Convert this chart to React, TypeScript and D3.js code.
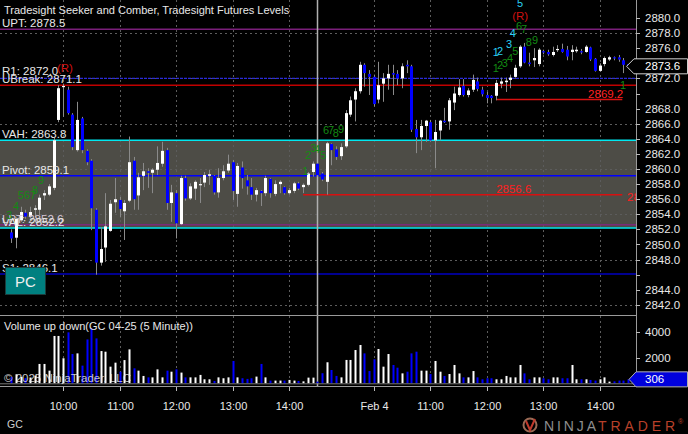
import React from 'react';
import * as d3 from 'd3';

const FONT = "'Liberation Sans', Arial, sans-serif";

// 5-minute bars; bar index k counted from 10:00 on day 1 (first bar k = -11 -> 09:05)
const FIRST_K = -11;
const opens = [
  2851.6, 2850.9, 2853.2, 2854.2, 2853.7, 2854.6, 2854.6, 2856.5, 2856.6, 2857.5, 2866.5,
  2870.9, 2870.5, 2867.2, 2862.5, 2866.7, 2862.4, 2861.1, 2854.6, 2847.6, 2849.6, 2851.8,
  2855.6, 2855.9, 2854.4, 2855.8, 2861.1, 2856.5, 2859.1, 2859.7, 2859.5, 2859.9, 2860.7,
  2862.5, 2855.5, 2856.8, 2852.7, 2858.8, 2856.1, 2857.4, 2857.9, 2858.2, 2859.1, 2859.1,
  2856.9, 2858.8, 2859.8, 2860.9, 2856.7, 2860.2, 2858.5, 2857.6, 2856.6, 2857.1, 2856.8,
  2858.7, 2856.7, 2858.0, 2857.6, 2856.8, 2857.1, 2858.1, 2857.6, 2857.9, 2859.6, 2860.7,
  2859.4, 2858.3, 2863.3, 2862.6, 2861.7, 2863.0, 2867.2, 2869.2, 2870.3, 2873.8, 2872.6,
  2872.2, 2869.2, 2871.3, 2872.0, 2872.7, 2872.6, 2872.0, 2873.8, 2873.6, 2865.3, 2864.2,
  2865.7, 2866.2, 2863.8, 2865.1, 2866.4, 2866.3, 2868.8, 2869.8, 2871.0, 2869.8, 2870.5,
  2871.6, 2870.5, 2869.8, 2869.7, 2869.7, 2871.3, 2871.5, 2871.8, 2872.2, 2873.6, 2876.2,
  2874.1, 2874.4, 2873.9, 2875.6, 2875.5, 2875.1, 2875.8, 2875.9, 2875.8, 2875.5, 2875.6,
  2875.6, 2875.5, 2876.1, 2874.6, 2873.0, 2873.9, 2874.5, 2874.8, 2874.8, 2874.4, 2873.9,
];
const highs = [
  2852.0, 2853.6, 2855.0, 2854.6, 2855.0, 2855.2, 2856.6, 2857.2, 2858.0, 2864.1, 2871.1,
  2871.3, 2870.9, 2867.4, 2868.9, 2866.9, 2862.6, 2861.3, 2854.8, 2852.3, 2856.8, 2855.9,
  2858.8, 2856.3, 2855.9, 2864.3, 2861.6, 2859.5, 2860.8, 2860.1, 2860.1, 2863.0, 2863.6,
  2862.8, 2857.9, 2857.2, 2859.1, 2859.1, 2858.1, 2858.5, 2858.8, 2859.6, 2859.9, 2859.2,
  2860.1, 2860.5, 2861.9, 2861.2, 2860.8, 2861.0, 2859.2, 2858.8, 2857.5, 2857.2, 2859.1,
  2858.8, 2858.5, 2858.5, 2857.7, 2857.5, 2858.3, 2858.3, 2858.1, 2859.6, 2861.0, 2860.8,
  2859.6, 2863.6, 2863.4, 2863.0, 2863.4, 2867.8, 2869.6, 2870.7, 2874.2, 2874.0, 2873.1,
  2872.5, 2874.2, 2872.7, 2873.8, 2873.8, 2873.1, 2874.0, 2874.4, 2873.8, 2866.5, 2866.5,
  2866.5, 2866.5, 2866.5, 2866.5, 2868.1, 2869.4, 2870.9, 2871.9, 2871.9, 2870.7, 2872.5,
  2872.1, 2870.9, 2870.2, 2869.8, 2871.8, 2872.1, 2872.1, 2872.5, 2873.8, 2876.4, 2876.7,
  2875.4, 2876.0, 2876.0, 2875.8, 2875.8, 2876.2, 2876.4, 2876.6, 2876.3, 2876.4, 2876.2,
  2875.9, 2876.4, 2876.2, 2874.7, 2874.0, 2874.9, 2875.0, 2874.9, 2875.1, 2874.7, 2873.9,
];
const lows = [
  2850.2, 2849.5, 2853.0, 2853.4, 2853.5, 2853.6, 2853.9, 2855.9, 2856.4, 2857.2, 2866.2,
  2866.9, 2867.2, 2862.5, 2862.3, 2862.1, 2860.5, 2851.9, 2846.0, 2847.2, 2847.7, 2851.7,
  2854.2, 2853.6, 2850.6, 2855.6, 2854.6, 2854.6, 2857.2, 2857.5, 2856.8, 2859.2, 2860.3,
  2854.6, 2853.0, 2850.8, 2852.6, 2855.8, 2855.9, 2855.9, 2855.5, 2857.6, 2857.9, 2856.6,
  2856.2, 2858.5, 2859.5, 2855.9, 2855.0, 2857.4, 2856.6, 2855.9, 2855.7, 2855.1, 2856.4,
  2856.2, 2856.4, 2856.8, 2856.6, 2856.6, 2856.8, 2857.2, 2856.8, 2857.7, 2859.0, 2859.0,
  2858.4, 2856.6, 2860.5, 2861.2, 2861.2, 2862.8, 2866.9, 2866.3, 2870.0, 2870.9, 2869.8,
  2868.3, 2868.7, 2868.9, 2870.5, 2869.8, 2871.1, 2870.7, 2872.7, 2864.9, 2862.1, 2862.5,
  2863.6, 2863.6, 2860.1, 2863.8, 2866.1, 2865.2, 2867.8, 2869.6, 2869.6, 2869.5, 2870.2,
  2870.3, 2869.6, 2868.7, 2868.7, 2869.1, 2870.7, 2870.2, 2870.7, 2872.1, 2873.4, 2874.0,
  2873.6, 2873.5, 2873.6, 2875.2, 2875.0, 2874.9, 2875.5, 2875.4, 2874.4, 2874.4, 2875.4,
  2875.2, 2875.4, 2874.3, 2872.9, 2872.9, 2873.6, 2874.3, 2874.4, 2874.2, 2872.7, 2873.5,
];
const closes = [
  2850.8, 2853.4, 2854.3, 2853.7, 2854.3, 2854.8, 2856.2, 2856.8, 2857.7, 2863.8, 2870.7,
  2871.0, 2867.4, 2862.9, 2866.5, 2862.5, 2860.9, 2854.8, 2847.6, 2849.4, 2852.4, 2855.4,
  2856.0, 2854.7, 2855.5, 2860.9, 2856.0, 2858.9, 2859.7, 2859.5, 2859.9, 2860.8, 2862.4,
  2855.5, 2856.9, 2852.8, 2858.8, 2856.1, 2857.7, 2858.3, 2858.0, 2859.2, 2859.3, 2856.9,
  2858.8, 2859.7, 2860.7, 2857.1, 2860.4, 2858.8, 2857.7, 2856.6, 2857.2, 2856.8, 2858.8,
  2856.8, 2858.0, 2858.3, 2856.8, 2857.2, 2858.1, 2857.4, 2857.9, 2859.4, 2860.7, 2859.2,
  2858.6, 2863.4, 2862.5, 2861.6, 2862.9, 2867.4, 2869.1, 2870.3, 2873.8, 2872.7, 2872.2,
  2868.6, 2871.1, 2872.0, 2872.6, 2872.5, 2872.0, 2873.6, 2873.6, 2865.2, 2864.2, 2865.7,
  2866.4, 2863.8, 2864.9, 2866.4, 2866.2, 2869.1, 2870.0, 2870.8, 2869.8, 2870.4, 2871.8,
  2870.6, 2869.9, 2869.4, 2869.4, 2871.4, 2871.6, 2871.7, 2872.1, 2873.4, 2876.2, 2874.1,
  2873.9, 2874.7, 2875.8, 2875.5, 2875.2, 2875.5, 2875.9, 2875.5, 2874.9, 2875.8, 2875.8,
  2875.5, 2876.2, 2874.5, 2873.0, 2873.7, 2874.7, 2874.8, 2874.7, 2874.5, 2873.8, 2873.6,
];
const volumes = [
  500, 700, 500, 400, 450, 600, 1500, 1500, 980, 3670, 3670,
  1940, 3950, 2270, 2320, 1370, 3400, 4260, 3480, 2500, 2450, 1290,
  1600, 900, 1800, 2630, 1160, 980, 570, 460, 460, 1080, 460,
  980, 900, 1080, 830, 460, 460, 460, 650, 310, 310, 180,
  460, 390, 460, 1730, 460, 390, 340, 390, 520, 1500, 460,
  210, 210, 210, 210, 260, 210, 180, 150, 440, 440, 130,
  780, 1630, 1030, 570, 460, 1810, 1810, 2580, 2970, 2320, 950,
  1860, 2660, 1290, 2270, 1420, 1210, 770, 900, 2320, 2450, 980,
  980, 720, 1730, 900, 570, 720, 1420, 770, 460, 460, 950,
  460, 310, 390, 390, 310, 310, 570, 460, 460, 1420, 770,
  310, 460, 460, 390, 310, 460, 460, 390, 390, 1420, 310,
  310, 310, 260, 210, 310, 460, 130, 150, 210, 210, 306,
];

const priceTicks = [2880, 2878, 2876, 2872, 2868, 2866, 2864, 2862, 2860, 2858, 2856, 2854, 2852, 2850, 2848, 2844, 2842];
const priceGrid = [2842, 2848, 2854, 2860, 2866, 2872, 2878];
const volTicks = [2000, 4000];
const timeTickBars = [0, 12, 24, 36, 48, 66, 78, 90, 102, 114];
const timeTickLabels = ['10:00', '11:00', '12:00', '13:00', '14:00', 'Feb 4', '11:00', '12:00', '13:00', '14:00'];
const sessionBreakBar = 54;

const levelNames = ['UPT', 'R1', 'UBreak', 'VAH', 'Pivot', 'LPT', 'VAL', 'S1'];
const levelValues = [2878.5, 2872.0, 2871.1, 2863.8, 2859.1, 2852.6, 2852.2, 2846.1];
const levelColors = ['#7a1f7a', '#2a2ad8', '#c00000', '#00e8f0', '#0000ff', '#7a2a7a', '#00e8f0', '#000090'];
const levelWidths = [1.5, 1.2, 1.5, 1.5, 1.5, 1.5, 1.5, 2];

const lastPrice = 2873.6;
const lastVolume = 306;
const redLevels = [2856.6, 2869.2];
const redLevelStart = [51, 92];
const redLevelEnd = 119;

// Seeker / Comber counts: [text, bar, price, colour]
const countText = ['9', '8', '567', '4', '3', '1', '2', '3', '4', '5', '6', '7', '8', '9',
  '5', '6', '7', '4', '3', '1', '2', '8', '9', '5', '4', '1', '2', '3', '1'];
const countBar = [-5.3, -6.6, -9.6, -10.6, -12.1, 50.8, 51.4, 52.5, 53.3, 54.6, 55.2, 56.3, 57.3, 58.4,
  96.4, 96.2, 97.3, 94.9, 94.1, 91.3, 92.2, 98.3, 99.6, 95.4, 94.3, 91.3, 92.2, 93.2, 118.3];
const countPrice = [2858.0, 2856.7, 2856.0, 2854.6, 2853.4, 2859.2, 2861.3, 2862.3, 2862.1, 2861.3, 2864.6, 2864.6, 2864.2, 2864.8,
  2881.5, 2878.4, 2878.0, 2877.5, 2876.0, 2875.0, 2875.1, 2876.3, 2876.6, 2875.1, 2874.2, 2872.8, 2873.3, 2873.5, 2870.6];
const countKind = ['g', 'g', 'g', 'g', 'g', 'g', 'g', 'g', 'g', 'g', 'g', 'g', 'g', 'g',
  'c', 'g', 'g', 'c', 'c', 'c', 'c', 'g', 'g', 'g', 'g', 'g', 'g', 'g', 'g'];
const reversalBar = [-1.3, 95.4];
const reversalPrice = [2872.8, 2879.7];

export default function App() {
  const W = 688, H = 434;
  const plotRight = 636;
  const x = d3.scaleLinear().domain([0, 48]).range([63, 289]);
  const y = d3.scaleLinear().domain([2842, 2880]).range([304.9, 18]);
  const yv = d3.scaleLinear().domain([0, 4000]).range([383.3, 331.7]);
  const evenTicks = d3.range(2842, 2881, 2);
  const px = (k: number) => Math.round(x(k)) + 0.5;
  const grid = '#5c5c5c';
  const txt = '#e8e8e8';
  const lastY = y(lastPrice);
  const volY = yv(lastVolume);

  return (
    <svg width={W} height={H} style={{ position: 'absolute', left: 0, top: 0, background: '#000' }} fontFamily={FONT}>
      <defs>
        <clipPath id="plot"><rect x={0} y={0} width={plotRight} height={315} /></clipPath>
        <clipPath id="vol"><rect x={0} y={316} width={plotRight} height={70} /></clipPath>
      </defs>
      <rect x={0} y={0} width={W} height={H} fill="#000" />
      <g clipPath="url(#plot)">
        {/* value area */}
        <rect x={0} y={y(levelValues[3])} width={plotRight} height={y(levelValues[6]) - y(levelValues[3])} fill="#4d4c46" />
        {priceGrid.map((p) => (
          <line key={'g' + p} x1={0} x2={plotRight} y1={Math.round(y(p)) + 0.5} y2={Math.round(y(p)) + 0.5} stroke={grid} strokeDasharray="2,3" />
        ))}
        {timeTickBars.map((k) => (
          <line key={'v' + k} x1={px(k)} x2={px(k)} y1={0} y2={315} stroke={grid} strokeDasharray="2,3" />
        ))}
        {levelValues.map((v, i) => (
          <line key={'l' + i} x1={0} x2={plotRight} y1={y(v)} y2={y(v)} stroke={levelColors[i]} strokeWidth={levelWidths[i]}
            strokeDasharray={levelNames[i] === 'R1' ? '3,1' : undefined} />
        ))}
        <line x1={px(sessionBreakBar)} x2={px(sessionBreakBar)} y1={0} y2={315} stroke="#b0b0b0" strokeWidth={1.5} />
        {redLevels.map((v, i) => (
          <line key={'r' + i} x1={x(redLevelStart[i])} x2={x(redLevelEnd) - 1} y1={y(v)} y2={y(v)} stroke="#d81010" strokeWidth={1.5} />
        ))}
        {opens.map((o, i) => {
          const k = i + FIRST_K;
          const cx = px(k);
          const c = closes[i];
          const up = c >= o;
          const top = y(Math.max(o, c));
          const bot = y(Math.min(o, c));
          return (
            <g key={'c' + i}>
              <line x1={cx} x2={cx} y1={y(highs[i])} y2={y(lows[i])} stroke="#8a8a8a" />
              <rect x={cx - 1.5} y={top} width={3} height={Math.max(1.2, bot - top)} fill={up ? '#ffffff' : '#0000ff'} />
            </g>
          );
        })}
        {/* level labels */}
        {levelValues.map((v, i) => (
          <text key={'t' + i} x={2} y={y(v) - (levelNames[i] === 'R1' ? 3.5 : 2)} fontSize={11.5} fill={levelNames[i] === 'LPT' ? '#d8c8d8' : txt}>
            {`${levelNames[i]}: ${v.toFixed(1)}`}
          </text>
        ))}
        <text x={x(92)} y={y(redLevels[0]) - 2} fontSize={11.5} fill="#ff2020">{redLevels[0].toFixed(1)}</text>
        <text x={x(119.8)} y={y(redLevels[0]) + 6} fontSize={11.5} fill="#ff2020">{redLevels[0].toFixed(1)}</text>
        <text x={x(redLevelEnd)} y={y(redLevels[1]) - 1.5} fontSize={11.5} fill="#ff2020" textAnchor="end">{redLevels[1].toFixed(1)}</text>
        {countText.map((t, i) => (
          <text key={'n' + i} x={x(countBar[i])} y={y(countPrice[i])} fontSize={11}
            fill={countKind[i] === 'c' ? '#2ad0f5' : '#138a13'}>{t}</text>
        ))}
        {reversalBar.map((k, i) => (
          <text key={'R' + i} x={x(k)} y={y(reversalPrice[i])} fontSize={11.5} fill="#d01010">(R)</text>
        ))}
        <text x={4} y={14} fontSize={11} fill={txt}>Tradesight Seeker and Comber, Tradesight Futures Levels</text>
        {/* PC box */}
        <rect x={5.5} y={267.5} width={40} height={27} fill="#008080" stroke="#1c3c3c" />
        <text x={25.5} y={287} fontSize={15} fill="#f0f0f0" textAnchor="middle">PC</text>
      </g>

      {/* panel separator and axes */}
      <line x1={0} x2={plotRight} y1={315.5} y2={315.5} stroke="#9a9a9a" />
      <line x1={plotRight + 0.5} x2={plotRight + 0.5} y1={0} y2={387} stroke="#9a9a9a" />
      <line x1={0} x2={plotRight} y1={386.5} y2={386.5} stroke="#9a9a9a" />

      {evenTicks.map((p) => (
        <line key={'pt' + p} x1={plotRight} x2={plotRight + 4} y1={Math.round(y(p)) + 0.5} y2={Math.round(y(p)) + 0.5} stroke="#bbb" />
      ))}
      {priceTicks.map((p) => (
        <text key={'pl' + p} x={645} y={y(p) + 4} fontSize={11.5} fill={txt}>{p.toFixed(1)}</text>
      ))}

      {/* volume panel */}
      <g clipPath="url(#vol)">
        {timeTickBars.map((k) => (
          <line key={'vv' + k} x1={px(k)} x2={px(k)} y1={316} y2={386} stroke={grid} strokeDasharray="2,3" />
        ))}
        <line x1={px(sessionBreakBar)} x2={px(sessionBreakBar)} y1={316} y2={386} stroke="#b0b0b0" strokeWidth={1.5} />
        {volumes.map((v, i) => {
          const k = i + FIRST_K;
          const up = closes[i] >= opens[i];
          return <rect key={'vb' + i} x={px(k) - 1} y={yv(v)} width={2} height={yv(0) - yv(v)} fill={up ? '#ffffff' : '#0000ff'} />;
        })}
        <line x1={0} x2={plotRight} y1={yv(0) + 0.5} y2={yv(0) + 0.5} stroke="#777" />
      </g>
      <text x={4} y={330} fontSize={11} fill={txt}>Volume up down(GC 04-25 (5 Minute))</text>
      <text x={4} y={382} fontSize={11.5} fill="rgba(235,235,235,0.85)">© 2025 NinjaTrader, LLC</text>
      {volTicks.map((v) => (
        <g key={'vt' + v}>
          <line x1={plotRight} x2={plotRight + 4} y1={Math.round(yv(v)) + 0.5} y2={Math.round(yv(v)) + 0.5} stroke="#bbb" />
          <text x={645} y={yv(v) + 4} fontSize={11.5} fill={txt}>{v}</text>
        </g>
      ))}

      {/* time axis */}
      {timeTickBars.map((k, i) => (
        <g key={'tt' + k}>
          <line x1={px(k)} x2={px(k)} y1={387} y2={391} stroke="#bbb" />
          <text x={px(k)} y={410} fontSize={11} fill={txt} textAnchor="middle">{timeTickLabels[i]}</text>
        </g>
      ))}
      <text x={7} y={428} fontSize={10.5} fill="#cfcfcf">GC</text>

      {/* last price marker */}
      <path d={`M${x(119.7)},${lastY} L${plotRight - 2},${lastY - 7.5} H687.5 V${lastY + 7.5} H${plotRight - 2} Z`} fill="#000" stroke="#d0d0d0" />
      <text x={645} y={lastY + 4} fontSize={11.5} fill="#fff">{lastPrice.toFixed(1)}</text>
      {/* last volume marker */}
      <path d={`M${plotRight - 7},${volY} L${plotRight},${volY - 7.5} H687.5 V${volY + 7.5} H${plotRight} Z`} fill="#0000dd" stroke="#b0b0b0" />
      <text x={645} y={volY + 4} fontSize={11.5} fill="#fff">{lastVolume}</text>

      {/* NinjaTrader logo */}
      <circle cx={530} cy={425} r={6.5} fill="none" stroke="#9a6a55" strokeWidth={2} />
      <path d="M526,421 L530,430 L535,419" fill="none" stroke="#c0392b" strokeWidth={2} />
      <text x={544} y={430.5} fontSize={14} fill="#8e8e8e" textLength={52} lengthAdjust="spacing">NINJA</text>
      <text x={598} y={430.5} fontSize={14} fill="#b8402a" textLength={77} lengthAdjust="spacing">TRADER</text>
      <text x={678} y={424} fontSize={7} fill="#b8402a">®</text>
    </svg>
  );
}
